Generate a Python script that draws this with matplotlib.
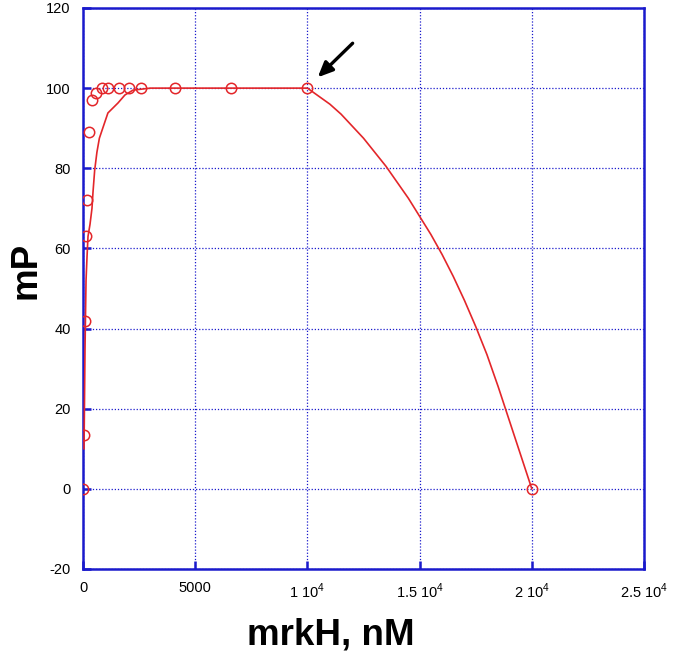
import matplotlib
matplotlib.use("Agg")
from matplotlib import pyplot as plt

plt.rcParams['font.family'] = ['Liberation Sans', 'DejaVu Sans']
plt.rcParams['mathtext.fontset'] = 'custom'
plt.rcParams['mathtext.rm'] = 'Liberation Sans'
plt.rcParams['axes.unicode_minus'] = False

# measured points (nM, mP)
conc = [0, 45, 90, 150, 200, 250, 400, 580, 850, 1100, 1600, 2050, 2580, 4100, 6600, 10000, 20000]
mp = [0, 13.4, 42, 63, 72, 89, 97, 98.7, 100, 100, 100, 100, 100, 100, 100, 100, 0]

# fitted curve
fit_x = [45, 60, 90, 135, 180, 223, 312, 400, 445, 520, 620, 730, 850, 1110, 1560, 1870, 2230, 3000,
         9000, 10000, 10500, 11000, 11500, 12000, 12500, 13000, 13500, 14000, 14500,
         15000, 15500, 16000, 16500, 17000, 17500, 18000, 18500, 19000, 19500, 20000]
fit_y = [10, 18, 35, 52, 58, 63, 66, 70, 74, 79.5, 84, 87.5, 89.5, 93.8, 96.3, 98.3, 99.5, 100,
         100, 100, 98, 96, 93.5, 90.5, 87.5, 84, 80.5, 76.5, 72.5,
         68, 63.5, 58.5, 53, 47, 40.5, 33.5, 25.5, 17, 8.5, 0]

xticks = [0, 5000, 10000, 15000, 20000, 25000]
xlabels = ['0', '5000', r'1 10$^4$', r'1.5 10$^4$', r'2 10$^4$', r'2.5 10$^4$']
yticks = [-20, 0, 20, 40, 60, 80, 100, 120]

red = '#e3262a'
blue = '#1a1acc'

fig = plt.figure(figsize=(6.77, 6.65), dpi=100)
ax = fig.add_axes([0.1226, 0.1444, 0.8287, 0.8436])

ax.plot(fit_x, fit_y, color=red, lw=1.2, zorder=3)
ax.plot(conc, mp, 'o', mfc='none', mec=red, ms=7.5, mew=1.1, zorder=4)

ax.set_xlim(0, 25000)
ax.set_ylim(-20, 120)
ax.set_xticks(xticks)
ax.set_xticklabels(xlabels)
ax.set_yticks(yticks)

ax.grid(True, color=blue, ls=(0, (1, 1.5)), lw=0.9)
ax.set_axisbelow(True)
for s in ax.spines.values():
    s.set_color(blue)
    s.set_linewidth(1.8)
ax.tick_params(direction='in', length=6, width=1.8, color=blue, labelsize=10.5,
               labelcolor='black', pad=9)

ax.annotate('', xy=(10460, 102.7), xytext=(12015, 111.2),
            arrowprops=dict(arrowstyle='-|>,head_length=0.9,head_width=0.4',
                            color='black', lw=2.4, shrinkA=0, shrinkB=0))

fig.text(331 / 677, 0.045, 'mrkH, nM', fontsize=26.5, fontweight='bold',
         ha='center', va='center')
fig.text(26 / 677, 0.594, 'mP', fontsize=26.5, fontweight='bold',
         ha='center', va='center', rotation=90)

fig.savefig('out.png', dpi=100)
